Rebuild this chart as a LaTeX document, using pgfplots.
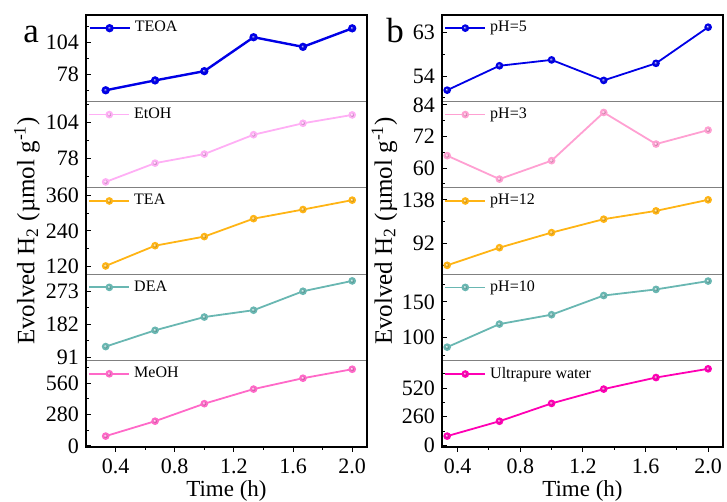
\documentclass[border=0pt]{standalone}
\usepackage{fontspec}
\setmainfont{Liberation Serif}
\usepackage{pgfplots}
\pgfplotsset{compat=1.18}

\definecolor{cblue}{RGB}{0,0,230}
\definecolor{cetoh}{RGB}{255,175,245}
\definecolor{corange}{RGB}{255,180,20}
\definecolor{cteal}{RGB}{105,183,178}
\definecolor{cmeoh}{RGB}{255,105,200}
\definecolor{cph3}{RGB}{255,160,210}
\definecolor{cwater}{RGB}{255,0,180}

\pgfplotsset{
  sub/.style={
    scale only axis, width=140.5pt, height=43.2pt,
    xtick=\empty, ytick pos=left, tick align=inside,
    major tick length=2.5pt, minor tick length=1.5pt,
    tick style={black, line width=0.5pt},
    axis line style={draw=gray, line width=0.4pt},
    /pgf/number format/assume math mode=true,
    tick label style={font=\fontsize{11}{12}\selectfont},
    legend style={at={(0,1)}, anchor=north west, draw=none, fill=none,
      font=\fontsize{8}{9}\selectfont, inner xsep=1pt, inner ysep=1pt},
    legend cell align=left,
    legend image code/.code={\draw[mark repeat=2,mark phase=2]
      plot coordinates {(0pt,0pt) (10pt,0pt) (20pt,0pt)};},
  },
  bottom/.style={
    xtick={0.4,0.8,1.2,1.6,2.0}, minor xtick={0.6,1.0,1.4,1.8},
    xtick pos=bottom, xtick align=outside,
    xticklabel style={/pgf/number format/.cd, fixed, precision=1, zerofill},
    xlabel={Time (h)},
    xlabel style={font=\fontsize{11.5}{13}\selectfont, at={(axis description cs:0.5,-0.51)}, anchor=center},
  },
  ylab/.style={
    ylabel={Evolved H\textsubscript{2} (µmol g\textsuperscript{-1})},
    ylabel style={font=\fontsize{12.5}{14}\selectfont, at={(axis description cs:#1,0.5)}, anchor=center},
  },
  ln/.style={color=#1, line width=0.9pt, mark=ball, mark size=1.45pt,
    mark options={ball color=#1}},
}

\begin{document}
\begin{tikzpicture}
\useasboundingbox (0,0) rectangle (363.5pt,251pt);

% panel a
\begin{axis}[sub, name=a1, at={(43pt,200.3pt)}, anchor=south west,
  xmin=0.2, xmax=2.1, ymin=56, ymax=126, ytick={78,104}, minor ytick={65,91,117}]
\addplot[ln=cblue, line width=1.2pt] coordinates {(0.333,65) (0.667,73) (1,80.5) (1.333,108) (1.667,100.2) (2,115.2)};
\addlegendentry{TEOA}
\end{axis}
\begin{axis}[sub, name=a2, at={(43pt,157.1pt)}, anchor=south west,
  xmin=0.2, xmax=2.1, ymin=57, ymax=119, ytick={78,104}, minor ytick={65,91,117}]
\addplot[ln=cetoh] coordinates {(0.333,61.2) (0.667,74.7) (1,81.2) (1.333,95.1) (1.667,103.3) (2,109.3)};
\addlegendentry{EtOH}
\end{axis}
\begin{axis}[sub, ylab=-0.21, name=a3, at={(43pt,113.9pt)}, anchor=south west,
  xmin=0.2, xmax=2.1, ymin=93, ymax=387, ytick={120,240,360}, minor ytick={180,300}]
\addplot[ln=corange] coordinates {(0.333,121) (0.667,190) (1,221) (1.333,282) (1.667,313) (2,345)};
\addlegendentry{TEA}
\end{axis}
\begin{axis}[sub, name=a4, at={(43pt,70.7pt)}, anchor=south west,
  xmin=0.2, xmax=2.1, ymin=82, ymax=320, ytick={91,182,273}, minor ytick={136.5,227.5,318.5}]
\addplot[ln=cteal] coordinates {(0.333,120.6) (0.667,165.4) (1,202) (1.333,220.8) (1.667,273) (2,301.5)};
\addlegendentry{DEA}
\end{axis}
\begin{axis}[sub, bottom, name=a5, at={(43pt,27.5pt)}, anchor=south west,
  xmin=0.2, xmax=2.1, ymin=-9, ymax=761, ytick={0,280,560}, minor ytick={140,420,700}]
\addplot[ln=cmeoh] coordinates {(0.333,88) (0.667,221) (1,377) (1.333,507) (1.667,604) (2,684)};
\addlegendentry{MeOH}
\end{axis}
\draw[line width=0.75pt] (a5.south west) rectangle (a1.north east);

% panel b
\begin{axis}[sub, name=b1, at={(221pt,200.3pt)}, anchor=south west,
  xmin=0.3, xmax=2.095, ymin=48.8, ymax=66.5, ytick={54,63}, minor ytick={49.5,58.5}]
\addplot[ln=cblue] coordinates {(0.333,51.1) (0.667,56.1) (1,57.3) (1.333,53.1) (1.667,56.6) (2,64)};
\addlegendentry{pH=5}
\end{axis}
\begin{axis}[sub, name=b2, at={(221pt,157.1pt)}, anchor=south west,
  xmin=0.3, xmax=2.095, ymin=52.5, ymax=85.3, ytick={60,72,84}, minor ytick={54,66,78}]
\addplot[ln=cph3] coordinates {(0.333,64.7) (0.667,55.8) (1,62.8) (1.333,81.1) (1.667,69.1) (2,74.4)};
\addlegendentry{pH=3}
\end{axis}
\begin{axis}[sub, ylab=-0.205, name=b3, at={(221pt,113.9pt)}, anchor=south west,
  xmin=0.3, xmax=2.095, ymin=60, ymax=150.6, ytick={92,138}, minor ytick={69,115}]
\addplot[ln=corange] coordinates {(0.333,69.3) (0.667,87.8) (1,103.6) (1.333,117.7) (1.667,126.4) (2,138)};
\addlegendentry{pH=12}
\end{axis}
\begin{axis}[sub, name=b4, at={(221pt,70.7pt)}, anchor=south west,
  xmin=0.3, xmax=2.095, ymin=67.4, ymax=189, ytick={100,150}, minor ytick={75,125,175}]
\addplot[ln=cteal] coordinates {(0.333,86.3) (0.667,118.8) (1,132) (1.333,159) (1.667,167.6) (2,179.3)};
\addlegendentry{pH=10}
\end{axis}
\begin{axis}[sub, bottom, name=b5, at={(221pt,27.5pt)}, anchor=south west,
  xmin=0.3, xmax=2.095, ymin=-15, ymax=770, ytick={0,260,520}, minor ytick={130,390,650}]
\addplot[ln=cwater] coordinates {(0.333,84) (0.667,219) (1,381) (1.333,511) (1.667,616) (2,695)};
\addlegendentry{Ultrapure water}
\end{axis}
\draw[line width=0.75pt] (b5.south west) rectangle (b1.north east);

\node[anchor=base west, font=\fontsize{17.5}{18}\selectfont, inner sep=0pt] at (11.5pt,229.5pt) {a};
\node[anchor=base west, font=\fontsize{17.5}{18}\selectfont, inner sep=0pt] at (193pt,229.5pt) {b};
\end{tikzpicture}
\end{document}
